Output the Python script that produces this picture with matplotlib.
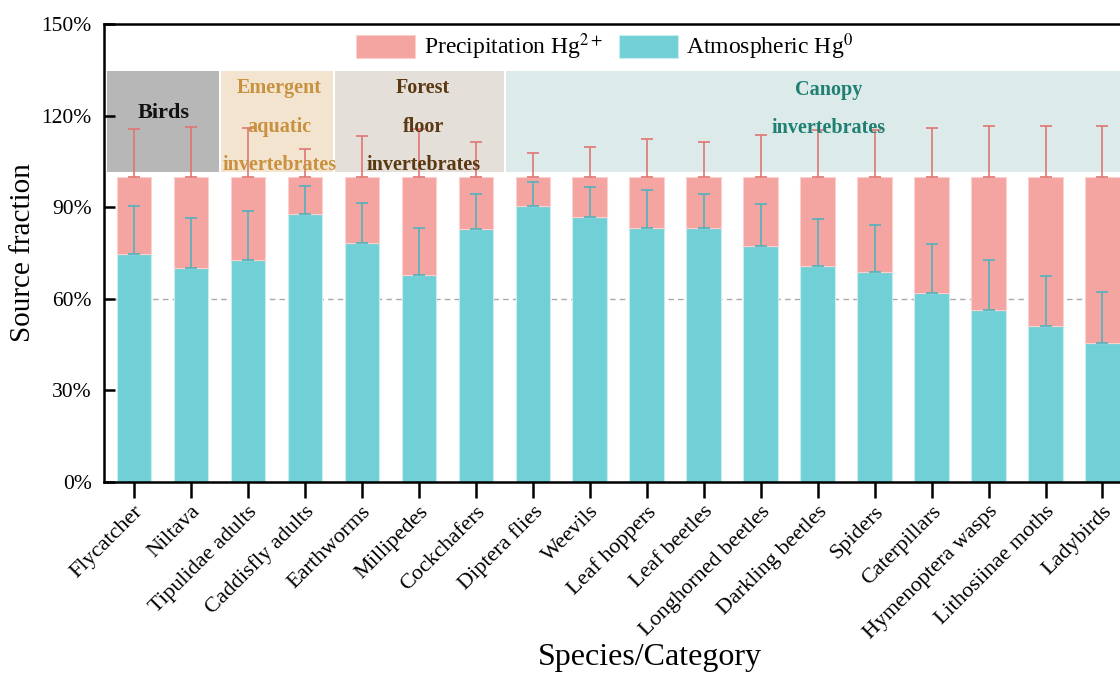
import matplotlib.pyplot as plt
import numpy as np
from matplotlib.patches import Rectangle
from matplotlib.ticker import PercentFormatter

plt.rcParams['font.family'] = ['Liberation Serif', 'DejaVu Serif']
plt.rcParams['mathtext.fontset'] = 'stix'

species = ['Flycatcher', 'Niltava', 'Tipulidae adults', 'Caddisfly adults',
           'Earthworms', 'Millipedes', 'Cockchafers', 'Diptera flies',
           'Weevils', 'Leaf hoppers', 'Leaf beetles', 'Longhorned beetles',
           'Darkling beetles', 'Spiders', 'Caterpillars', 'Hymenoptera wasps',
           'Lithosiinae moths', 'Ladybirds']
# atmospheric Hg0 share (%) and its SD; precipitation Hg2+ is the remainder
atm = [74.7, 70.2, 72.8, 87.8, 78.2, 67.7, 82.8, 90.4, 86.8,
       83.3, 83.1, 77.2, 70.9, 68.9, 61.9, 56.3, 51.1, 45.5]
sd = [15.7, 16.2, 16.1, 9.2, 13.3, 15.5, 11.5, 7.8, 9.7,
      12.2, 11.3, 13.8, 15.2, 15.3, 16.1, 16.5, 16.5, 16.6]

groups = ['Birds', 'Emergent\naquatic\ninvertebrates', 'Forest\nfloor\ninvertebrates',
          'Canopy\ninvertebrates']
group_span = [(0, 1), (2, 3), (4, 6), (7, 17)]
group_fill = ['#b7b7b7', '#f3e4d0', '#e5dfd9', '#dcebea']
group_text = ['#111111', '#c8913f', '#5a3812', '#1f7f73']

atm = np.array(atm)
sd = np.array(sd)
pre = 100 - atm
x = np.arange(len(species))

c_pre = '#f4a4a1'
c_atm = '#71cfd6'

fig = plt.figure(figsize=(11.2, 6.73), dpi=100)
ax = fig.add_axes([0.0929, 0.2838, 0.922, 0.6805])

# group boxes behind everything
for (a, b), fc in zip(group_span, group_fill):
    ax.add_patch(Rectangle((a - 0.46, 101.4), b - a + 0.95, 33.3,
                           facecolor=fc, edgecolor='none', zorder=0))

ax.axhline(60, color='#aaaaaa', ls=(0, (4, 3)), lw=1, zorder=1)

ax.bar(x, atm, width=0.6, color=c_atm, edgecolor='#c9eef0', lw=0.8,
       label='Atmospheric Hg$^{0}$', zorder=2)
ax.bar(x, pre, width=0.6, bottom=atm, color=c_pre, edgecolor='#fbd0cd', lw=0.8,
       label='Precipitation Hg$^{2+}$', zorder=2)
ax.errorbar(x, atm, yerr=[np.zeros_like(sd), sd], fmt='none', ecolor='#4fb3bb',
            elinewidth=1.2, capsize=4, capthick=1.2, zorder=3)
ax.errorbar(x, atm + pre, yerr=[np.zeros_like(sd), sd], fmt='none', ecolor='#e07673',
            elinewidth=1.2, capsize=4, capthick=1.2, zorder=3)

# group labels
ax.text(0.52, 121, groups[0], ha='center', va='center', fontsize=16,
        fontweight='bold', color=group_text[0], zorder=4)
for gi, xc in zip([1, 2], [2.56, 5.08]):
    for k, line in enumerate(groups[gi].split('\n')):
        ax.text(xc, 129 - 12.6 * k, line, ha='center', va='center', fontsize=14.5,
                fontweight='bold', color=group_text[gi], zorder=4)
for k, line in enumerate(groups[3].split('\n')):
    ax.text(12.2, 128.5 - 12.6 * k, line, ha='center', va='center', fontsize=14.5,
            fontweight='bold', color=group_text[3], zorder=4)

ax.set_xlim(-0.52, 17.6)
ax.set_ylim(0, 150)
ax.set_yticks(np.arange(0, 151, 30))
ax.yaxis.set_major_formatter(PercentFormatter(decimals=0))
ax.set_xticks(x)
ax.set_xticklabels(species, rotation=45, ha='right', rotation_mode='anchor',
                   fontsize=16)
ax.tick_params(axis='y', direction='in', labelsize=15.5, length=8, width=1.8, pad=9)
ax.tick_params(axis='x', direction='out', length=11.5, width=1.8, pad=3)
for s in ['left', 'bottom', 'top']:
    ax.spines[s].set_linewidth(1.8)
ax.spines['right'].set_visible(False)

ax.set_ylabel('Source fraction', fontsize=21, labelpad=4)
ax.set_xlabel('Species/Category', fontsize=23)
ax.xaxis.set_label_coords(0.529, -0.352)

h, l = ax.get_legend_handles_labels()
ax.legend(h[::-1], l[::-1], loc='upper center', bbox_to_anchor=(0.485, 1.03),
          ncol=2, frameon=False, fontsize=17, handlelength=2.5, handleheight=1.1,
          handletextpad=0.35, columnspacing=0.7)

fig.savefig('out.png', dpi=100)
